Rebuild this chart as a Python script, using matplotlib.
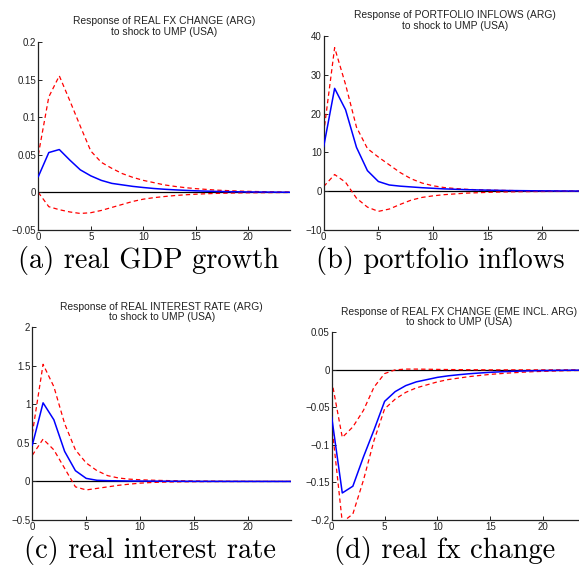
import numpy as np
import matplotlib
matplotlib.use('Agg')
import matplotlib.pyplot as plt

W, H = 579, 567
horizon = np.arange(25)

titles = ['Response of REAL FX CHANGE (ARG)\nto shock to UMP (USA)',
          'Response of PORTFOLIO INFLOWS (ARG)\nto shock to UMP (USA)',
          'Response of REAL INTEREST RATE (ARG)\nto shock to UMP (USA)',
          'Response of REAL FX CHANGE (EME INCL. ARG)\nto shock to UMP (USA)']
captions = ['(a) real GDP growth', '(b) portfolio inflows',
            '(c) real interest rate', '(d) real fx change']

gdp_irf = [0.021, 0.053, 0.057, 0.043, 0.030, 0.022, 0.016, 0.012, 0.010, 0.008, 0.0065, 0.0052, 0.0042,
           0.0034, 0.0027, 0.0021, 0.0017, 0.0013, 0.0010, 0.0008, 0.0006, 0.0005, 0.0004, 0.0003, 0.0002]
gdp_hi = [0.050, 0.127, 0.155, 0.122, 0.088, 0.055, 0.040, 0.032, 0.025, 0.020, 0.016, 0.013, 0.010,
          0.008, 0.0063, 0.005, 0.004, 0.003, 0.0024, 0.0018, 0.0014, 0.0011, 0.0008, 0.0006, 0.0005]
gdp_lo = [0.0, -0.019, -0.023, -0.026, -0.028, -0.027, -0.024, -0.020, -0.016, -0.012, -0.009, -0.007, -0.0055,
          -0.0042, -0.0032, -0.0024, -0.0018, -0.0013, -0.001, -0.0007, -0.0005, -0.0004, -0.0003, -0.0002, -0.0001]

pf_irf = [11.5, 26.5, 21.0, 11.3, 5.3, 2.5, 1.6, 1.3, 1.1, 0.9, 0.75, 0.6, 0.5,
          0.4, 0.33, 0.27, 0.22, 0.17, 0.14, 0.11, 0.09, 0.07, 0.05, 0.04, 0.03]
pf_hi = [15.0, 37.0, 27.5, 16.5, 11.0, 8.8, 6.8, 4.8, 3.2, 2.1, 1.4, 0.95, 0.7,
         0.5, 0.38, 0.3, 0.23, 0.18, 0.14, 0.11, 0.09, 0.07, 0.05, 0.04, 0.03]
pf_lo = [1.2, 4.3, 2.3, -1.8, -4.1, -5.2, -4.6, -3.4, -2.3, -1.6, -1.2, -0.9, -0.7,
         -0.5, -0.4, -0.3, -0.22, -0.17, -0.13, -0.1, -0.08, -0.06, -0.05, -0.04, -0.03]

ir_irf = [0.47, 1.02, 0.80, 0.39, 0.14, 0.04, 0.015, 0.01, 0.008, 0.006, 0.005, 0.004, 0.003,
          0.0025, 0.002, 0.0015, 0.0012, 0.001, 0.0008, 0.0006, 0.0005, 0.0004, 0.0003, 0.0002, 0.0002]
ir_hi = [0.62, 1.52, 1.23, 0.75, 0.41, 0.24, 0.14, 0.075, 0.045, 0.03, 0.022, 0.017, 0.013,
         0.01, 0.008, 0.006, 0.005, 0.004, 0.003, 0.0025, 0.002, 0.0015, 0.0012, 0.001, 0.0008]
ir_lo = [0.34, 0.55, 0.41, 0.17, -0.07, -0.11, -0.09, -0.07, -0.05, -0.035, -0.022, -0.014, -0.009,
         -0.006, -0.004, -0.003, -0.002, -0.0015, -0.001, -0.0008, -0.0006, -0.0004, -0.0003, -0.0002, -0.0001]

fx_irf = [-0.063, -0.164, -0.155, -0.116, -0.080, -0.042, -0.029, -0.021, -0.016, -0.013, -0.010, -0.008, -0.0065,
          -0.0052, -0.0042, -0.0033, -0.0026, -0.002, -0.0016, -0.0012, -0.001, -0.0008, -0.0006, -0.0005, -0.0004]
fx_hi = [-0.014, -0.090, -0.076, -0.054, -0.023, -0.005, 0.0, 0.001, 0.001, 0.0008, 0.0006, 0.0004, 0.0003,
         0.0002, 0.0001, 0.0, 0.0, 0.0, 0.0, 0.0, 0.0, 0.0, 0.0, 0.0, 0.0]
fx_lo = [-0.072, -0.203, -0.192, -0.147, -0.094, -0.052, -0.039, -0.030, -0.024, -0.020, -0.016, -0.013, -0.011,
         -0.009, -0.0075, -0.006, -0.005, -0.004, -0.0032, -0.0025, -0.002, -0.0016, -0.0012, -0.0009, -0.0007]

series = [(gdp_irf, gdp_hi, gdp_lo), (pf_irf, pf_hi, pf_lo), (ir_irf, ir_hi, ir_lo), (fx_irf, fx_hi, fx_lo)]
ylims = [(-0.05, 0.2), (-10, 40), (-0.5, 2), (-0.2, 0.05)]
yticks = [[-0.05, 0, 0.05, 0.1, 0.15, 0.2], [-10, 0, 10, 20, 30, 40],
          [-0.5, 0, 0.5, 1, 1.5, 2], [-0.2, -0.15, -0.1, -0.05, 0, 0.05]]
yticklabels = [['\u22120.05', '0', '0.05', '0.1', '0.15', '0.2'], ['\u221210', '0', '10', '20', '30', '40'],
               ['\u22120.5', '0', '0.5', '1', '1.5', '2'], ['\u22120.2', '\u22120.15', '\u22120.1', '\u22120.05', '0', '0.05']]

# axes boxes in pixels: left, top, right, bottom
boxes = [(38.3, 42, 290.3, 230), (323.7, 36, 586, 230),
         (32.3, 327.3, 291, 520), (331.7, 332.3, 585.6, 520)]
cap_pos = [(148, 268), (440, 268), (150, 558), (445, 558)]

fig = plt.figure(figsize=(W / 100, H / 100), dpi=100)
for i in range(4):
    l, t, r, b = boxes[i]
    ax = fig.add_axes([l / W, 1 - b / H, (r - l) / W, (b - t) / H])
    irf, hi, lo = series[i]
    ax.axhline(0, color='black', lw=0.9, zorder=1)
    ax.plot(horizon, irf, color='#0000ff', lw=1.1, zorder=3)
    ax.plot(horizon, hi, color='#ff0000', lw=0.9, ls=(0, (3.5, 2.5)), zorder=2)
    ax.plot(horizon, lo, color='#ff0000', lw=0.9, ls=(0, (3.5, 2.5)), zorder=2)
    ax.set_xlim(0, 24)
    ax.set_ylim(*ylims[i])
    ax.set_xticks([0, 5, 10, 15, 20])
    ax.set_yticks(yticks[i])
    ax.set_yticklabels(yticklabels[i])
    for s in ['top', 'right']:
        ax.spines[s].set_visible(False)
    for s in ['left', 'bottom']:
        ax.spines[s].set_linewidth(0.9)
        ax.spines[s].set_color('#222222')
    ax.tick_params(direction='in', length=3, width=0.7, labelsize=7, pad=1.5, colors='#222222')
    for lab in ax.get_xticklabels() + ax.get_yticklabels():
        lab.set_family('Liberation Sans')
    ax.set_title(titles[i], fontsize=7.4, family='Liberation Sans', color='#222222', pad=5, linespacing=1.1)
    cx, cy = cap_pos[i]
    fig.text(cx / W, 1 - cy / H, captions[i], family='cmr10', fontsize=20.5, ha='center', va='baseline')

fig.savefig('out.png', dpi=100)
